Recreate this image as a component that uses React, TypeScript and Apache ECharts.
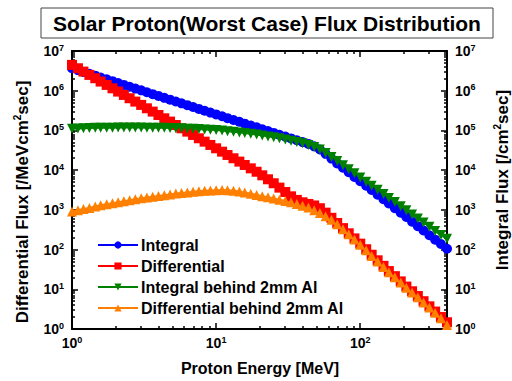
import React, { useEffect, useRef } from 'react';
import * as echarts from 'echarts';

const FONT = '"Liberation Sans", Arial, Helvetica, sans-serif';

const energy = [1.00, 1.10, 1.20, 1.32, 1.45, 1.58, 1.74, 1.91, 2.09, 2.29, 2.51, 2.75, 3.02, 3.31, 3.63, 3.98, 4.37, 4.79, 5.25, 5.75, 6.31, 6.92, 7.59, 8.32, 9.12,
  10.0, 11.0, 12.0, 13.2, 14.5, 15.8, 17.4, 19.1, 20.9, 22.9, 25.1, 27.5, 30.2, 33.1, 36.3, 39.8, 43.7, 47.9, 52.5, 57.5, 63.1, 69.2, 75.9, 83.2, 91.2,
  100, 110, 120, 132, 145, 158, 174, 191, 209, 229, 251, 275, 302, 331, 363, 400];

const integral = [3.67e6, 3.30e6, 2.96e6, 2.67e6, 2.39e6, 2.15e6, 1.93e6, 1.74e6, 1.56e6, 1.40e6, 1.26e6, 1.13e6, 1.02e6, 9.14e5, 8.20e5, 7.38e5, 6.62e5, 5.96e5, 5.35e5, 4.81e5, 4.32e5, 3.88e5, 3.48e5, 3.13e5, 2.81e5,
  2.53e5, 2.27e5, 2.04e5, 1.83e5, 1.65e5, 1.48e5, 1.33e5, 1.20e5, 1.07e5, 9.66e4, 8.67e4, 7.80e4, 7.00e4, 6.29e4, 5.65e4, 5.08e4, 4.57e4, 3.98e4, 3.31e4, 2.57e4, 1.95e4, 1.48e4, 1.15e4, 8.91e3, 6.76e3,
  5.25e3, 4.07e3, 3.16e3, 2.40e3, 1.86e3, 1.45e3, 1.10e3, 851, 661, 501, 389, 302, 229, 178, 138, 105];

const differential = [4.47e6, 3.68e6, 3.03e6, 2.50e6, 2.06e6, 1.70e6, 1.40e6, 1.15e6, 9.51e5, 7.83e5, 6.46e5, 5.32e5, 4.39e5, 3.61e5, 2.98e5, 2.45e5, 2.02e5, 1.67e5, 1.37e5, 1.13e5, 9.33e4, 7.69e4, 6.34e4, 5.22e4, 4.31e4,
  3.55e4, 2.92e4, 2.41e4, 1.99e4, 1.64e4, 1.35e4, 1.11e4, 9.12e3, 7.41e3, 5.89e3, 4.68e3, 3.63e3, 2.82e3, 2.19e3, 1.78e3, 1.55e3, 1.41e3, 1.29e3, 1.10e3, 851, 631, 468, 347, 257, 191,
  141, 102, 74.1, 53.7, 38.9, 28.8, 21.4, 15.8, 11.7, 8.91, 6.76, 5.01, 3.72, 2.75, 2.00, 1.48];

const integralAl = [1.11e5, 1.12e5, 1.14e5, 1.15e5, 1.16e5, 1.16e5, 1.17e5, 1.17e5, 1.18e5, 1.18e5, 1.18e5, 1.18e5, 1.18e5, 1.17e5, 1.17e5, 1.16e5, 1.16e5, 1.15e5, 1.14e5, 1.13e5, 1.11e5, 1.10e5, 1.08e5, 1.06e5, 1.04e5,
  1.02e5, 9.89e4, 9.59e4, 9.27e4, 8.93e4, 8.59e4, 8.22e4, 7.85e4, 7.46e4, 7.08e4, 6.70e4, 6.31e4, 5.92e4, 5.52e4, 5.13e4, 4.73e4, 4.32e4, 3.85e4, 3.31e4, 2.69e4, 2.14e4, 1.70e4, 1.33e4, 1.05e4, 8.32e3,
  6.53e3, 5.13e3, 4.07e3, 3.20e3, 2.51e3, 2.00e3, 1.57e3, 1.23e3, 977, 767, 603, 479, 376, 295, 234, 186];

const differentialAl = [912, 977, 1.05e3, 1.12e3, 1.22e3, 1.30e3, 1.38e3, 1.46e3, 1.55e3, 1.64e3, 1.74e3, 1.84e3, 1.95e3, 2.04e3, 2.14e3, 2.24e3, 2.34e3, 2.45e3, 2.57e3, 2.66e3, 2.75e3, 2.85e3, 2.95e3, 3.02e3, 3.09e3,
  3.13e3, 3.16e3, 3.13e3, 3.02e3, 2.88e3, 2.72e3, 2.54e3, 2.37e3, 2.21e3, 2.07e3, 1.93e3, 1.80e3, 1.68e3, 1.55e3, 1.41e3, 1.27e3, 1.14e3, 977, 832, 692, 562, 432, 324, 243, 180,
  132, 95.5, 69.2, 50.1, 36.3, 26.9, 20.0, 14.8, 11.0, 8.32, 6.31, 4.68, 3.47, 2.57, 1.86, 1.26];

const seriesNames = ['Integral', 'Differential', 'Integral behind 2mm Al', 'Differential behind 2mm Al'];
const seriesColors = ['#0000ff', '#ff0000', '#008000', '#ff8000'];
const seriesSymbols = ['circle', 'rect', 'triangle', 'triangle'];
const seriesRotate = [0, 0, 180, 0];
const seriesValues = [integral, differential, integralAl, differentialAl];

const majorX = [1, 10, 100];
const minorX = [2, 3, 4, 5, 6, 7, 8, 9, 20, 30, 40, 50, 60, 70, 80, 90, 200, 300, 400];
const majorY = [1, 10, 100, 1e3, 1e4, 1e5, 1e6, 1e7];
const minorMantissa = [2, 3, 4, 5, 6, 7, 8, 9];
const minorY: number[] = [];
majorY.slice(0, -1).forEach((d) => minorMantissa.forEach((m) => minorY.push(m * d)));

const titleText = 'Solar Proton(Worst Case) Flux Distribution';
const xName = 'Proton Energy [MeV]';

const tickLabel = (v: number) => `{b|10}{s|${Math.round(Math.log10(v))}}`;
const richLbl = {
  b: { fontSize: 14, fontWeight: 'bold', fontFamily: FONT, color: '#000', lineHeight: 16 },
  s: { fontSize: 9, fontWeight: 'bold', fontFamily: FONT, color: '#000', verticalAlign: 'top', lineHeight: 9 },
};
const tickLine = { color: '#000', width: 1.5 };

function xAx(pos: string, major: boolean, labels: boolean) {
  return {
    type: 'log', logBase: 10, min: 1, max: 400, position: pos,
    axisLine: { show: major, onZero: false, lineStyle: { color: '#000', width: 2 } },
    axisTick: { show: true, inside: true, length: major ? 6 : 3, customValues: major ? majorX : minorX, lineStyle: tickLine },
    axisLabel: labels ? { show: true, customValues: majorX, formatter: tickLabel, rich: richLbl, margin: 6 } : { show: false },
    splitLine: { show: false },
  };
}
function yAx(pos: string, major: boolean, labels: boolean) {
  return {
    type: 'log', logBase: 10, min: 1, max: 1e7, position: pos,
    axisLine: { show: major, onZero: false, lineStyle: { color: '#000', width: 2 } },
    axisTick: { show: true, inside: true, length: major ? 6 : 3, customValues: major ? majorY : minorY, lineStyle: tickLine },
    axisLabel: labels ? { show: true, customValues: majorY, formatter: tickLabel, rich: richLbl, margin: 8 } : { show: false },
    splitLine: { show: false },
  };
}

export default function App() {
  const ref = useRef<HTMLDivElement>(null);
  useEffect(() => {
    if (!ref.current) return;
    const chart = echarts.init(ref.current, null, { renderer: 'svg' });
    const nameRich = {
      n: { fontSize: 17, fontWeight: 'bold', fontFamily: FONT, color: '#000', lineHeight: 20 },
      s: { fontSize: 10, fontWeight: 'bold', fontFamily: FONT, color: '#000', verticalAlign: 'top', lineHeight: 12 },
    };
    chart.setOption({
      animation: false,
      backgroundColor: '#fff',
      grid: { left: 72, right: 65, top: 51, bottom: 52, containLabel: false },
      xAxis: [xAx('bottom', true, true), xAx('bottom', false, false), xAx('top', true, false), xAx('top', false, false)],
      yAxis: [yAx('left', true, true), yAx('left', false, false), yAx('right', true, true), yAx('right', false, false)],
      legend: {
        orient: 'vertical', left: 97, top: 237, padding: 0, itemWidth: 40, itemHeight: 9, itemGap: 5,
        textStyle: { fontSize: 16, fontWeight: 'bold', fontFamily: FONT, color: '#000', padding: [0, 0, 0, -2] },
        data: seriesNames,
      },
      series: seriesNames.map((name, i) => ({
        name, type: 'line', xAxisIndex: 0, yAxisIndex: 0,
        symbol: seriesSymbols[i], symbolRotate: seriesRotate[i], symbolSize: 10, showSymbol: true,
        itemStyle: { color: seriesColors[i] },
        lineStyle: { color: seriesColors[i], width: 2 },
        data: energy.map((e, k) => [e, seriesValues[i][k]]),
      })),
      graphic: [
        { type: 'rect', shape: { x: 41, y: 8, width: 452, height: 30 }, style: { fill: '#fff', stroke: '#444', lineWidth: 1 } },
        { type: 'text', x: 267, y: 23, style: { text: titleText, font: `bold 21px ${FONT}`, fill: '#000', align: 'center', verticalAlign: 'middle', textAlign: 'center', textVerticalAlign: 'middle' } },
        { type: 'text', x: 260, y: 368, style: { text: xName, font: `bold 16px ${FONT}`, fill: '#000', align: 'center', verticalAlign: 'middle', textAlign: 'center', textVerticalAlign: 'middle' } },
        { type: 'text', x: 22, y: 202, rotation: Math.PI / 2, style: { text: '{n|Differential Flux [/MeVcm}{s|2}{n|sec]}', rich: nameRich, align: 'center', verticalAlign: 'middle', textAlign: 'center', textVerticalAlign: 'middle' } },
        { type: 'text', x: 502, y: 180, rotation: Math.PI / 2, style: { text: '{n|Integral Flux [/cm}{s|2}{n|sec]}', rich: nameRich, align: 'center', verticalAlign: 'middle', textAlign: 'center', textVerticalAlign: 'middle' } },
      ],
    });
    return () => chart.dispose();
  }, []);
  return <div ref={ref} style={{ position: 'absolute', left: 0, top: 0, width: 512, height: 381 }} />;
}
